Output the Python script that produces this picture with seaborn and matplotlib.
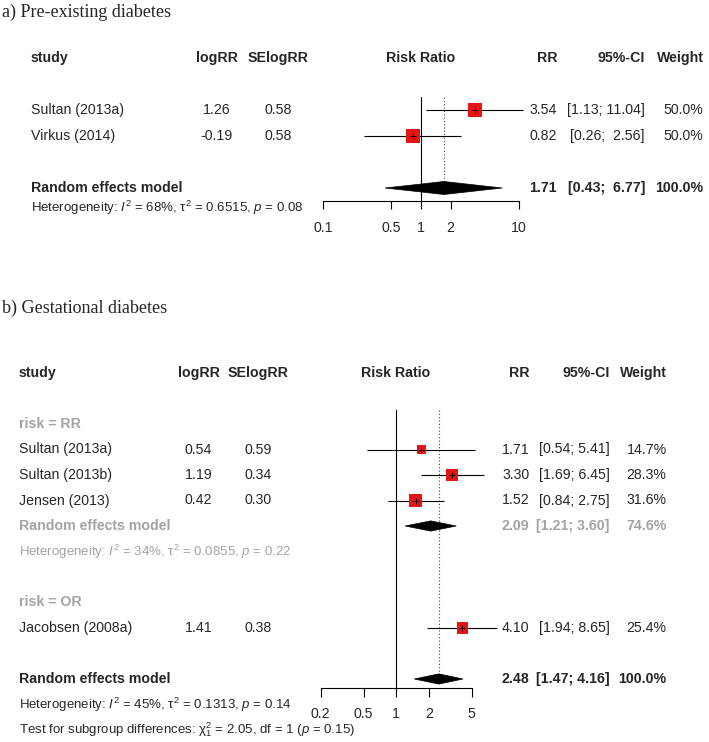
import numpy as np
import pandas as pd
import matplotlib
matplotlib.use("Agg")
import matplotlib.pyplot as plt
import seaborn as sns
from matplotlib.patches import Polygon
from matplotlib.ticker import NullLocator

# ---------------- data: panel a ----------------
a_study = ["Sultan (2013a)", "Virkus (2014)"]
a_logrr = [1.26, -0.19]
a_se = [0.58, 0.58]
a_rr = [3.54, 0.82]
a_lo = [1.13, 0.26]
a_hi = [11.04, 2.56]
a_w = [50.0, 50.0]
a_re = [1.71, 0.43, 6.77]          # estimate, lower, upper
a_re_w = 100.0
a_het = "Heterogeneity: $I^2$ = 68%, τ$^2$ = 0.6515, $p$ = 0.08"
a_ticks = [0.1, 0.5, 1, 2, 10]
a_ticklabels = ["0.1", "0.5", "1", "2", "10"]

# ---------------- data: panel b ----------------
b_groups = ["risk = RR", "risk = OR"]
b_study = ["Sultan (2013a)", "Sultan (2013b)", "Jensen (2013)", "Jacobsen (2008a)"]
b_logrr = [0.54, 1.19, 0.42, 1.41]
b_se = [0.59, 0.34, 0.30, 0.38]
b_rr = [1.71, 3.30, 1.52, 4.10]
b_lo = [0.54, 1.69, 0.84, 1.94]
b_hi = [5.41, 6.45, 2.75, 8.65]
b_w = [14.7, 28.3, 31.6, 25.4]
b_sub_re = [2.09, 1.21, 3.60]
b_sub_w = 74.6
b_re = [2.48, 1.47, 4.16]
b_re_w = 100.0
b_sub_het = "Heterogeneity: $I^2$ = 34%, τ$^2$ = 0.0855, $p$ = 0.22"
b_het = "Heterogeneity: $I^2$ = 45%, τ$^2$ = 0.1313, $p$ = 0.14"
b_test = "Test for subgroup differences: χ$^2_1$ = 2.05, df = 1 ($p$ = 0.15)"
b_ticks = [0.2, 0.5, 1, 2, 5]
b_ticklabels = ["0.2", "0.5", "1", "2", "5"]

# ---------------- style ----------------
sns.set_style("white")
plt.rcParams["font.family"] = ["Liberation Sans", "DejaVu Sans"]
plt.rcParams["mathtext.fontset"] = "custom"
plt.rcParams["mathtext.rm"] = "Liberation Sans"
plt.rcParams["mathtext.it"] = "Liberation Sans:italic"
plt.rcParams["mathtext.bf"] = "Liberation Sans:bold"

RED = "#e51515"
GRAY = "#a3a3a3"
FS = 10.2
FS_HET = 9.5
W, H = 709, 742

fig = plt.figure(figsize=(W / 100, H / 100), dpi=100)
fig.patch.set_facecolor("white")


def axes_px(left, top, right, bottom):
    return fig.add_axes([left / W, 1 - bottom / H, (right - left) / W, (bottom - top) / H])


def fmt_ci(lo, hi, width):
    return f"[{lo:.2f}; {hi:{width}.2f}]"


def draw_panel(fa, ta, rows, rr, lo, hi, w, side_max_pt, ticks, ticklabels, tick_len, pad):
    fa.set_xscale("log")
    fa.set_facecolor("none")
    for s in ["top", "left", "right"]:
        fa.spines[s].set_visible(False)
    fa.spines["bottom"].set_linewidth(0.8)
    fa.spines["bottom"].set_color("black")
    ta.set_xlim(0, W)
    ta.axis("off")
    fa.hlines(rows, lo, hi, color="black", lw=0.8, zorder=1, clip_on=False)
    wmax = max(w)
    sizes = {wi: side_max_pt ** 2 * wi / wmax for wi in w}
    df = pd.DataFrame({"rr": rr, "row": rows, "w": w})
    sns.scatterplot(data=df, x="rr", y="row", size="w", sizes=sizes, marker="s",
                    color=RED, linewidth=0, legend=False, ax=fa, zorder=2, clip_on=False)
    fa.plot(rr, rows, "+", color="black", ms=5, mew=0.6, zorder=3, clip_on=False)
    fa.set_xlabel("")
    fa.set_ylabel("")
    fa.set_yticks([])
    fa.set_xticks(ticks)
    fa.set_xticklabels(ticklabels)
    fa.xaxis.set_minor_locator(NullLocator())
    fa.tick_params(axis="x", direction="out", length=tick_len, width=0.8,
                   color="black", labelsize=FS, pad=pad, bottom=True)


def diamond(fa, est, lo, hi, row, half):
    poly = Polygon([[lo, row], [est, row - half], [hi, row], [est, row + half]],
                   closed=True, facecolor="black", edgecolor="black", lw=0.5,
                   zorder=3, clip_on=False)
    fa.add_patch(poly)


# ======================= panel a =======================
fig.text(2 / W, 1 - 12 / H, "a) Pre-existing diabetes", family="Liberation Serif",
         fontsize=13, ha="left", va="center")

a_rows = [2, 3]
a_re_row = 5
a_het_row = 5.78
ya_top, ya_bot = -0.5, 5.5
fa = axes_px(323, 45, 519, 201)
ta = axes_px(0, 45, W, 201)
for ax in (fa, ta):
    ax.set_ylim(ya_bot, ya_top)
draw_panel(fa, ta, a_rows, a_rr, a_lo, a_hi, a_w, 10.1, a_ticks, a_ticklabels, 5.8, 8.5)
fa.set_xlim(a_ticks[0], a_ticks[-1])
fa.set_ylim(ya_bot, ya_top)
fa.plot([1, 1], [1.5, ya_bot], color="black", lw=0.8, zorder=1, clip_on=False)
fa.plot([a_re[0], a_re[0]], [1.5, a_re_row], color="#444444", lw=0.8,
        ls=(0, (1, 2)), zorder=1, clip_on=False)
diamond(fa, a_re[0], a_re[1], a_re[2], a_re_row, 0.25)

a_hiw = max(len(f"{v:.2f}") for v in a_hi + [a_re[2]])
hdr = dict(fontsize=FS, fontweight="bold", va="center")
ta.text(31, 0, "study", ha="left", **hdr)
ta.text(216.5, 0, "logRR", ha="center", **hdr)
ta.text(278, 0, "SElogRR", ha="center", **hdr)
ta.text(421, 0, "Risk Ratio", ha="center", **hdr)
ta.text(557, 0, "RR", ha="right", **hdr)
ta.text(645, 0, "95%-CI", ha="right", **hdr)
ta.text(704, 0, "Weight", ha="right", **hdr)
for i, r in enumerate(a_rows):
    kw = dict(fontsize=FS, va="center")
    ta.text(31, r, a_study[i], ha="left", **kw)
    ta.text(216.5, r, f"{a_logrr[i]:.2f}", ha="center", **kw)
    ta.text(278, r, f"{a_se[i]:.2f}", ha="center", **kw)
    ta.text(557, r, f"{a_rr[i]:.2f}", ha="right", **kw)
    ta.text(645, r, fmt_ci(a_lo[i], a_hi[i], a_hiw), ha="right", **kw)
    ta.text(703, r, f"{a_w[i]:.1f}%", ha="right", **kw)
ta.text(31, a_re_row, "Random effects model", ha="left", **hdr)
ta.text(557, a_re_row, f"{a_re[0]:.2f}", ha="right", **hdr)
ta.text(645, a_re_row, fmt_ci(a_re[1], a_re[2], a_hiw), ha="right", **hdr)
ta.text(703, a_re_row, f"{a_re_w:.1f}%", ha="right", **hdr)
ta.text(31, a_het_row, a_het, ha="left", va="center", fontsize=FS_HET)

# ======================= panel b =======================
fig.text(2 / W, 1 - 308 / H, "b) Gestational diabetes", family="Liberation Serif",
         fontsize=13, ha="left", va="center")

b_group_rows = [2, 9]
b_rows = [3, 4, 5, 10]
b_sub_row = 6
b_sub_het_row = 7
b_re_row = 12
b_het_row = 13
b_test_row = 14
y0, dy = 373, 25.5
yb_top, yb_bot = -0.5, 12.35
fb = axes_px(320.7, y0 + dy * yb_top, 471.7, y0 + dy * yb_bot)
tb = axes_px(0, y0 + dy * yb_top, W, y0 + dy * yb_bot)
for ax in (fb, tb):
    ax.set_ylim(yb_bot, yb_top)
draw_panel(fb, tb, b_rows, b_rr, b_lo, b_hi, b_w, 9.4, b_ticks, b_ticklabels, 6.4, 7.5)
fb.set_xlim(b_ticks[0], b_ticks[-1])
fb.set_ylim(yb_bot, yb_top)
fb.plot([1, 1], [1.45, yb_bot], color="black", lw=0.8, zorder=1, clip_on=False)
fb.plot([b_re[0], b_re[0]], [1.45, b_re_row], color="#444444", lw=0.8,
        ls=(0, (1, 2)), zorder=1, clip_on=False)
diamond(fb, b_sub_re[0], b_sub_re[1], b_sub_re[2], b_sub_row, 0.2)
diamond(fb, b_re[0], b_re[1], b_re[2], b_re_row, 0.2)

b_hiw = max(len(f"{v:.2f}") for v in b_hi + [b_re[2], b_sub_re[2]])
SX, LC, SC, RRX, CIX, WX = 19, 198.5, 258.5, 529.5, 609.5, 666.5
tb.text(SX, 0, "study", ha="left", **hdr)
tb.text(LC, 0, "logRR", ha="center", **hdr)
tb.text(SC, 0, "SElogRR", ha="center", **hdr)
tb.text(396, 0, "Risk Ratio", ha="center", **hdr)
tb.text(RRX, 0, "RR", ha="right", **hdr)
tb.text(CIX, 0, "95%-CI", ha="right", **hdr)
tb.text(WX, 0, "Weight", ha="right", **hdr)
for g, r in zip(b_groups, b_group_rows):
    tb.text(SX, r, g, ha="left", va="center", fontsize=FS, fontweight="bold", color=GRAY)
for i, r in enumerate(b_rows):
    kw = dict(fontsize=FS, va="center")
    tb.text(SX, r, b_study[i], ha="left", **kw)
    tb.text(LC, r, f"{b_logrr[i]:.2f}", ha="center", **kw)
    tb.text(SC, r, f"{b_se[i]:.2f}", ha="center", **kw)
    tb.text(RRX, r, f"{b_rr[i]:.2f}", ha="right", **kw)
    tb.text(CIX, r, fmt_ci(b_lo[i], b_hi[i], b_hiw), ha="right", **kw)
    tb.text(WX, r, f"{b_w[i]:.1f}%", ha="right", **kw)
gk = dict(fontsize=FS, fontweight="bold", va="center", color=GRAY)
tb.text(SX, b_sub_row, "Random effects model", ha="left", **gk)
tb.text(RRX, b_sub_row, f"{b_sub_re[0]:.2f}", ha="right", **gk)
tb.text(CIX, b_sub_row, fmt_ci(b_sub_re[1], b_sub_re[2], b_hiw), ha="right", **gk)
tb.text(WX, b_sub_row, f"{b_sub_w:.1f}%", ha="right", **gk)
tb.text(SX, b_sub_het_row, b_sub_het, ha="left", va="center", fontsize=FS_HET, color=GRAY)
tb.text(SX, b_re_row, "Random effects model", ha="left", **hdr)
tb.text(RRX, b_re_row, f"{b_re[0]:.2f}", ha="right", **hdr)
tb.text(CIX, b_re_row, fmt_ci(b_re[1], b_re[2], b_hiw), ha="right", **hdr)
tb.text(WX, b_re_row, f"{b_re_w:.1f}%", ha="right", **hdr)
tb.text(SX, b_het_row, b_het, ha="left", va="center", fontsize=FS_HET)
tb.text(SX, b_test_row, b_test, ha="left", va="center", fontsize=FS_HET)

fig.savefig("out.png", dpi=100, facecolor="white")
